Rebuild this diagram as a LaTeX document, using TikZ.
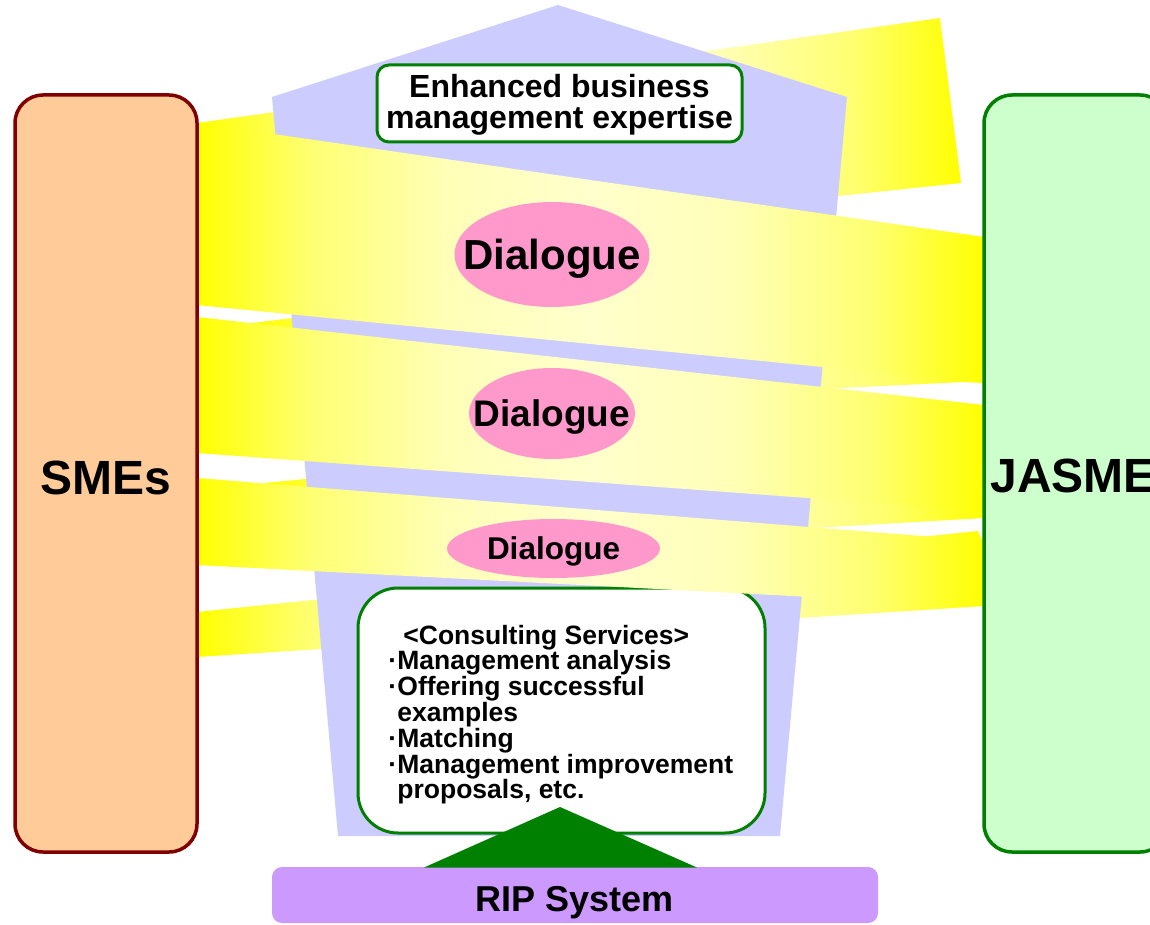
\documentclass[tikz,border=0pt]{standalone}
\usepackage{fontspec}
\setmainfont{Liberation Sans}
\usetikzlibrary{shapes.geometric}
\definecolor{bandY}{HTML}{FFFF00}
\definecolor{bandP}{HTML}{FFFFCC}
\colorlet{bandA}{bandP!55!bandY}
\colorlet{bandB}{bandP!90!bandY}
\definecolor{lav}{HTML}{CCCCFF}
\definecolor{pinkE}{HTML}{FF99CC}
\definecolor{peach}{HTML}{FFCC99}
\definecolor{mint}{HTML}{CCFFCC}
\definecolor{dred}{HTML}{800000}
\definecolor{dgreen}{HTML}{008000}
\definecolor{ripc}{HTML}{CC99FF}
\pgfdeclarehorizontalshading{bandshade}{100bp}{color(0bp)=(bandY); color(25bp)=(bandY); color(32bp)=(bandA); color(41bp)=(bandB); color(50bp)=(bandP); color(59bp)=(bandB); color(68bp)=(bandA); color(75bp)=(bandY); color(100bp)=(bandY)}
\begin{document}
\begin{tikzpicture}[x=0.5pt,y=-0.5pt,
  band/.style={shading=bandshade},
  greenbox/.style={draw=dgreen,fill=white,line width=1.5pt,inner sep=0pt},
  dlg/.style={ellipse,fill=pinkE,draw=none,inner sep=0pt},
  txt/.style={inner sep=0pt,text=black},
  sidebox/.style={line width=1.75pt,rounded corners=14pt,inner sep=0pt,minimum height=378.5pt}
]
\useasboundingbox (0,0) rectangle (1150,925);
\clip (0,0) rectangle (1150,925);
\fill[white] (0,0) rectangle (1150,925);
% back bands
\shade[band] (197,123) -- (940,18) -- (961,183) -- (197,264) -- cycle;
\shade[band] (253,323) -- (300,317) -- (984,300) -- (984,383) -- (963,382) -- (253,417) -- cycle;
\shade[band] (265,483) -- (305,479) -- (984,450) -- (984,518) -- (265,560) -- cycle;
\shade[band] (197,612) -- (978,531) -- (984,545) -- (984,606) -- (197,657) -- cycle;
% lavender column
\fill[lav] (558,5) -- (847,97) -- (780,836) -- (338,836) -- (272,97) -- cycle;
% result box
\node[greenbox,rounded corners=6pt,minimum width=182.5pt,minimum height=38.5pt] (gain) at (559.5,103.5) {};
\node[txt,anchor=north,align=center,font=\fontsize{16}{15.65}\bfseries\selectfont] (gaintext) at (559.5,73.7) {Enhanced business\\management expertise};
% consulting box
\node[greenbox,rounded corners=20pt,minimum width=203.5pt,minimum height=122.5pt] (cons) at (561.5,710.5) {};
\node[txt,anchor=north west,align=left,font=\fontsize{13.25}{12.9}\bfseries\selectfont] (constext) at (388,624.5)
 {\hspace*{7.5pt}<Consulting Services>\\
  \makebox[4.5pt][l]{·}Management analysis\\
  \makebox[4.5pt][l]{·}Offering successful\\
  \hspace*{4.5pt}examples\\
  \makebox[4.5pt][l]{·}Matching\\
  \makebox[4.5pt][l]{·}Management improvement\\
  \hspace*{4.5pt}proposals, etc.};
% front bands
\shade[band] (197,123) -- (984,237) -- (984,383) -- (197,305) -- cycle;
\shade[band] (197,317) -- (984,405) -- (984,511) -- (197,453) -- cycle;
\shade[band] (197,478) -- (984,541) -- (984,606) -- (197,565) -- cycle;
% dialogues
\node[dlg,minimum width=97.5pt,minimum height=52.5pt] (d1) at (552,254.5) {};
\node[txt,text depth=0pt,font=\fontsize{21}{24}\bfseries\selectfont] (d1t) at (d1.center) {Dialogue};
\node[dlg,minimum width=83pt,minimum height=45.5pt] (d2) at (552,413.5) {};
\node[txt,text depth=0pt,font=\fontsize{18.5}{21}\bfseries\selectfont] (d2t) at (d2.center) {Dialogue};
\node[dlg,minimum width=106.5pt,minimum height=29.5pt] (d3) at (553.5,548.5) {};
\node[txt,text depth=0pt,font=\fontsize{15.75}{18}\bfseries\selectfont] (d3t) at (d3.center) {Dialogue};
% RIP system
\node[fill=ripc,rounded corners=5pt,minimum width=303pt,minimum height=28pt,inner sep=0pt] (rip) at (575,895) {};
\fill[dgreen] (560,807) -- (424,867.5) -- (697,867.5) -- cycle;
\node[txt,anchor=base,font=\fontsize{18}{20}\bfseries\selectfont] (riptext) at (574.5,911) {RIP System};
% side boxes
\node[sidebox,draw=dred,fill=peach,minimum width=91pt] (smes) at (106,473.5) {};
\node[txt,anchor=base,font=\fontsize{24}{28}\bfseries\selectfont] (smestext) at (106,494) {SMEs};
\node[sidebox,draw=dgreen,fill=mint,minimum width=92pt] (jasme) at (1076,473.5) {};
\node[txt,anchor=base west,font=\fontsize{24}{28}\bfseries\selectfont] (jasmetext) at (990,492) {JASME};
\end{tikzpicture}
\end{document}
